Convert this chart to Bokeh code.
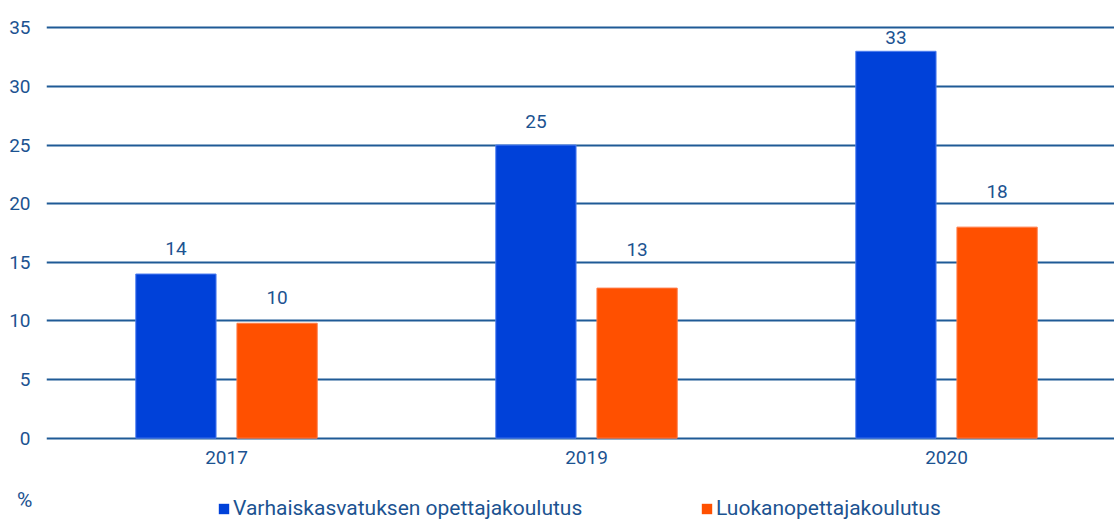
from bokeh.plotting import figure
from bokeh.layouts import column
from bokeh.models import (Range1d, FixedTicker, ColumnDataSource, Legend, LegendItem,
                          LabelSet)
from bokeh.core.properties import value
from bokeh.embed import file_html
from bokeh.resources import INLINE

# ---- data ----
years = ["2017", "2019", "2020"]
varhaiskasvatus = [14, 25, 33]
luokanopettaja = [9.8, 12.8, 18]
series_names = ["Varhaiskasvatuksen opettajakoulutus", "Luokanopettajakoulutus"]
y_ticks = [0, 5, 10, 15, 20, 25, 30, 35]
unit_label = "%"

# ---- styling ----
FONT = "Roboto"
FS = "19px"
FS_LEG = "21px"
TEXT = "#1c5391"
GRID = "#1f5a96"
BLUE = "#0041d9"
ORANGE = "#ff5000"
BLUE_EDGE = "#4f7ff0"
ORANGE_EDGE = "#ff7d4a"
BAR_W = 0.223
OFFSET = 0.1405
blue_label_off = [26, 24, 14]
orange_label_off = [26, 39, 36]

centers = [i + 0.5 for i in range(len(years))]
src_b = ColumnDataSource(dict(
    x=[c - OFFSET for c in centers], top=varhaiskasvatus,
    lab=[str(round(v)) for v in varhaiskasvatus], off=blue_label_off))
src_o = ColumnDataSource(dict(
    x=[c + OFFSET for c in centers], top=luokanopettaja,
    lab=[str(round(v)) for v in luokanopettaja], off=orange_label_off))

p = figure(width=1114, height=485, output_backend="svg", toolbar_location=None,
           x_range=Range1d(0, 1068 / 360), y_range=Range1d(-0.2, 35.2),
           min_border_left=46, min_border_right=0, min_border_top=25,
           min_border_bottom=45)
p.outline_line_color = None

p.vbar(x="x", top="top", width=BAR_W, source=src_b, fill_color=BLUE,
       line_color=BLUE_EDGE, line_width=1)
p.vbar(x="x", top="top", width=BAR_W, source=src_o, fill_color=ORANGE,
       line_color=ORANGE_EDGE, line_width=1)

for src in (src_b, src_o):
    p.add_layout(LabelSet(x="x", y="top", text="lab", y_offset="off", source=src,
                          text_align="center", text_baseline="middle",
                          text_font=value(FONT), text_font_size=value(FS),
                          text_color=TEXT))

# axes
p.xaxis.ticker = FixedTicker(ticks=centers)
p.xaxis.major_label_overrides = {c: y for c, y in zip(centers, years)}
p.xaxis.axis_line_color = None
p.xaxis.major_tick_line_color = None
p.xaxis.minor_tick_line_color = None
p.xaxis.major_tick_out = 0
p.xaxis.major_label_standoff = 10
p.xaxis.major_label_text_font = FONT
p.xaxis.major_label_text_font_size = FS
p.xaxis.major_label_text_color = TEXT

p.yaxis.ticker = FixedTicker(ticks=y_ticks)
p.yaxis.axis_line_color = None
p.yaxis.major_tick_line_color = None
p.yaxis.minor_tick_line_color = None
p.yaxis.major_tick_out = 0
p.yaxis.major_label_standoff = 16
p.yaxis.major_label_text_font = FONT
p.yaxis.major_label_text_font_size = FS
p.yaxis.major_label_text_color = TEXT

p.xgrid.grid_line_color = None
p.ygrid.ticker = FixedTicker(ticks=y_ticks)
p.ygrid.grid_line_color = GRID
p.ygrid.grid_line_width = 2

# ---- bottom strip: unit label (as axis label) and legend ----
UNIT_POS = 24.5
q = figure(width=1114, height=34, output_backend="svg", toolbar_location=None,
           x_range=Range1d(0, 1068), y_range=Range1d(0, 34), x_axis_type=None,
           min_border_left=46, min_border_right=0, min_border_top=0, min_border_bottom=0)
q.outline_line_color = None
q.xgrid.grid_line_color = None
q.ygrid.grid_line_color = None
q.yaxis.ticker = FixedTicker(ticks=[UNIT_POS])
q.yaxis.major_label_overrides = {UNIT_POS: unit_label}
q.yaxis.axis_line_color = None
q.yaxis.major_tick_line_color = None
q.yaxis.minor_tick_line_color = None
q.yaxis.major_tick_out = 0
q.yaxis.major_label_standoff = 14
q.yaxis.major_label_text_font = FONT
q.yaxis.major_label_text_font_size = FS_LEG
q.yaxis.major_label_text_color = TEXT

# legend proxies (single NaN row so that the legend swatch is drawn, nothing plotted)
proxy = ColumnDataSource(dict(x=[float("nan")], top=[float("nan")]))
lb = q.vbar(x="x", top="top", width=1, source=proxy, fill_color=BLUE, line_color=None)
lo = q.vbar(x="x", top="top", width=1, source=proxy, fill_color=ORANGE, line_color=None)

for r, name, xpos in ((lb, series_names[0], 171), (lo, series_names[1], 654)):
    lg = Legend(items=[LegendItem(label=name, renderers=[r])], location=(xpos, -1),
                orientation="horizontal", glyph_width=13, glyph_height=13,
                label_standoff=3, padding=0, margin=0, spacing=0, label_height=22,
                border_line_color=None, background_fill_alpha=0,
                label_text_font=FONT, label_text_font_size=FS_LEG,
                label_text_color=TEXT)
    q.add_layout(lg, "center")

layout = column(p, q, spacing=0)
open("out.html", "w").write(file_html(layout, INLINE))
